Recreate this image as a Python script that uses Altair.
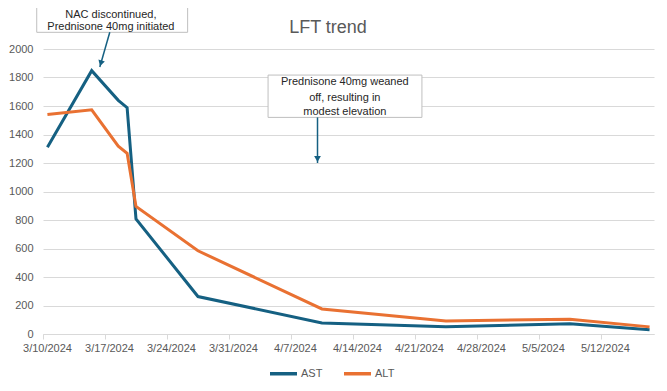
import altair as alt
import pandas as pd

# ---- data ----
dates = ["2024-03-10", "2024-03-15", "2024-03-18", "2024-03-19", "2024-03-20",
         "2024-03-27", "2024-04-10", "2024-04-24", "2024-05-08", "2024-05-17"]
ast_values = [1310, 1848, 1640, 1588, 808, 263, 78, 51, 72, 30]
alt_values = [1540, 1573, 1318, 1268, 895, 584, 176, 92, 104, 50]
series_names = ["AST", "ALT"]
series_colors = ["#156082", "#E97132"]
week_ticks = [(3, 10), (3, 17), (3, 24), (3, 31), (4, 7), (4, 14), (4, 21), (4, 28), (5, 5), (5, 12)]
y_ticks = list(range(0, 2001, 200))
chart_title = "LFT trend"

# annotation boxes / text / arrows (data coordinates)
box_x1 = ["2024-03-09T07:00:00", "2024-04-04T10:00:00"]
box_x2 = ["2024-03-26T08:00:00", "2024-04-21T19:00:00"]
box_y1 = [2117, 1520]
box_y2 = [2400, 1817]
note_text = ["NAC discontinued,", "Prednisone 40mg initiated",
             "Prednisone 40mg weaned", "off, resulting in", "modest elevation"]
note_x = ["2024-03-17T16:00:00", "2024-03-17T16:00:00",
          "2024-04-13T02:00:00", "2024-04-13T02:00:00", "2024-04-13T02:00:00"]
note_y = [2236, 2152, 1768, 1658, 1557]
arrow_x1 = ["2024-03-17T13:00:00", "2024-04-10T00:00:00"]
arrow_y1 = [2117, 1520]
arrow_x2 = ["2024-03-16T10:00:00", "2024-04-10T00:00:00"]
arrow_y2 = [1874, 1200]
head_x = ["2024-03-16T12:45:00", "2024-04-10T00:00:00"]
head_y = [1900, 1228]
head_angle = [16, 0]

# Excel date axis places points in the middle of each day slot
rows = []
for name, vals in zip(series_names, [ast_values, alt_values]):
    for d, v in zip(dates, vals):
        rows.append({"date": d + "T12:00:00", "series": name, "value": v})
lines_df = pd.DataFrame(rows)
box_df = pd.DataFrame({"x1": box_x1, "x2": box_x2, "y1": box_y1, "y2": box_y2})
note_df = pd.DataFrame({"x": note_x, "y": note_y, "t": note_text})
arrow_df = pd.DataFrame({"x1": arrow_x1, "y1": arrow_y1, "x2": arrow_x2, "y2": arrow_y2})
head_df = pd.DataFrame({"x": head_x, "y": head_y, "a": head_angle})
title_df = pd.DataFrame({"t": [chart_title]})

FONT = "Liberation Sans"
GRID = "#d9d9d9"
LABEL = "#595959"

x_scale = alt.Scale(domain=[alt.DateTime(year=2024, month=3, date=10),
                            alt.DateTime(year=2024, month=5, date=18)])
y_scale = alt.Scale(domain=[0, 2000], nice=False)

x_axis = alt.Axis(values=[alt.DateTime(year=2024, month=m, date=d) for m, d in week_ticks],
                  format="%-m/%-d/%Y", grid=False, domainColor=GRID, tickColor=GRID,
                  tickSize=5, labelPadding=3, labelOffset=4, labelFont=FONT,
                  labelFontSize=11, labelColor=LABEL, labelAngle=0, labelOverlap=False,
                  labelFlush=False, labelBound=False, title=None)
y_axis = alt.Axis(values=y_ticks, format="d", domain=False, ticks=False, gridColor=GRID,
                  labelPadding=10, labelFont=FONT, labelFontSize=11, labelColor=LABEL,
                  labelFlush=False, title=None)

lines = alt.Chart(lines_df).mark_line(strokeWidth=3).encode(
    x=alt.X("date:T", scale=x_scale, axis=x_axis),
    y=alt.Y("value:Q", scale=y_scale, axis=y_axis),
    color=alt.Color("series:N", scale=alt.Scale(domain=series_names, range=series_colors),
                    sort=series_names,
                    legend=alt.Legend(title=None, orient="none", direction="horizontal",
                                      legendX=225, legendY=309, symbolType="stroke",
                                      symbolSize=729, symbolStrokeWidth=3.5, labelOffset=2,
                                      columnPadding=14, labelFont=FONT, labelFontSize=11,
                                      labelColor=LABEL, padding=0)),
)

boxes = alt.Chart(box_df).mark_rect(fill="white", stroke="#bfbfbf", strokeWidth=1).encode(
    x=alt.X("x1:T", scale=x_scale, axis=x_axis), x2="x2:T",
    y=alt.Y("y1:Q", scale=y_scale, axis=y_axis), y2="y2:Q",
)

notes = alt.Chart(note_df).mark_text(font=FONT, fontSize=11, color="#262626").encode(
    x=alt.X("x:T", scale=x_scale, axis=x_axis),
    y=alt.Y("y:Q", scale=y_scale, axis=y_axis),
    text="t:N",
)

arrows = alt.Chart(arrow_df).mark_rule(color="#156082", strokeWidth=1.5).encode(
    x=alt.X("x1:T", scale=x_scale, axis=x_axis), x2="x2:T",
    y=alt.Y("y1:Q", scale=y_scale, axis=y_axis), y2="y2:Q",
)

heads = alt.Chart(head_df).mark_point(shape="triangle-down", filled=True, size=45,
                                      color="#156082", opacity=1).encode(
    x=alt.X("x:T", scale=x_scale, axis=x_axis),
    y=alt.Y("y:Q", scale=y_scale, axis=y_axis),
    angle=alt.Angle("a:Q", scale=None),
)

title_text = alt.Chart(title_df).mark_text(font=FONT, fontSize=18, color=LABEL,
                                           baseline="alphabetic", align="center").encode(
    x=alt.value(285), y=alt.value(-16), text="t:N",
)

chart = alt.layer(lines, boxes, arrows, heads, notes, title_text).properties(
    width=611, height=285,
    autosize=alt.AutoSizeParams(type="none"),
    padding={"left": 35, "top": 41, "right": 4, "bottom": 48},
).configure_view(stroke=None)

chart.save("out.html", embed_options={"renderer": "svg", "actions": False})
